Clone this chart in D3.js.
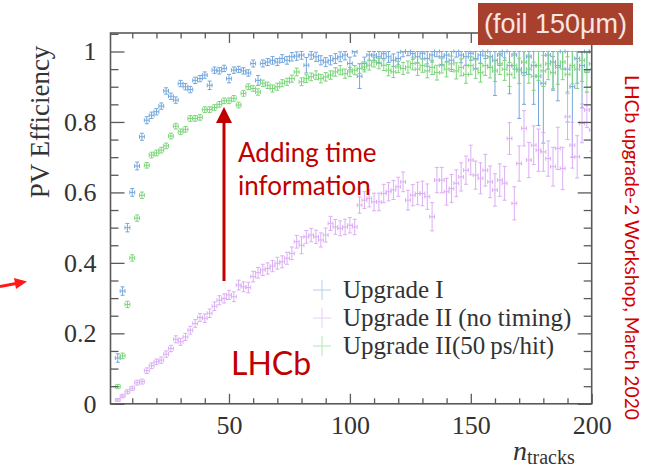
<!DOCTYPE html>
<html><head><meta charset="utf-8">
<script src="https://cdn.jsdelivr.net/npm/d3@7"></script>
<style>html,body{margin:0;padding:0;background:#fff;}svg{display:block;}</style>
</head><body>
<svg id="chart" width="647" height="470"></svg>
<script>
// ---------------- data ----------------
const nTracks = [4,6,8,10,12,14,16,18,20,22,24,26,28,30,32,34,36,38,40,42,44,46,48,50,52,54,56,58,60,62,64,66,68,70,72,74,76,78,80,82,84,86,88,90,92,94,96,98,100,102,104,106,108,110,112,114,116,118,120,122,124,126,128,130,132,134,136,138,140,142,144,146,148,150,152,154,156,158,160,162,164,166,168,170,172,174,176,178,180,182,184,186,188,190,192,194,196,198,200];

const upgrade1 = [0.13,0.32,0.50,0.60,0.675,0.758,0.805,0.819,0.829,0.845,0.888,0.873,0.862,0.909,0.900,0.892,0.918,0.923,0.933,0.904,0.947,0.945,0.952,0.923,0.947,0.949,0.945,0.939,0.966,0.918,0.966,0.970,0.975,0.970,0.980,0.975,0.985,0.987,0.990,0.961,0.990,0.985,0.975,0.970,0.975,0.980,0.985,0.990,0.966,0.999,0.930,0.966,0.990,0.990,0.985,0.994,0.985,0.975,0.980,0.999,1.000,0.994,0.985,0.995,0.980,0.990,1.000,0.985,0.990,0.975,1.000,0.990,0.985,0.995,0.980,0.990,1.000,0.985,0.975,0.990,1.000,0.960,0.990,0.950,0.940,0.985,0.960,0.930,0.910,0.990,0.970,0.960,1.000,0.950,0.900,0.980,0.960,1.000,1.000];
const upgrade1Err = [0.012,0.012,0.012,0.011,0.011,0.010,0.010,
  0.009,0.009,0.009,0.009,0.009,0.009,0.009,0.009,0.009,0.009,0.009,0.009,0.012,0.009,0.009,0.009,0.012,0.009,0.009,0.009,0.009,
  0.010,0.014,0.010,0.010,0.011,0.010,0.011,0.011,0.012,0.012,0.012,0.022,0.012,0.013,0.013,0.013,0.013,0.014,0.014,0.014,0.018,
  0.012,0.035,0.018,0.015,0.015,0.016,0.014,0.016,0.018,0.018,0.014,0.012,0.016,0.018,0.016,
  0.022,0.020,0.015,0.022,0.020,0.026,0.016,0.022,0.024,0.020,0.028,0.024,0.020,0.030,0.100,
  0.030,0.025,0.080,0.040,0.140,0.090,0.050,0.110,0.140,0.170,0.040,0.080,0.100,0.050,0.150,0.200,0.070,0.120,0.060,0.050];

const upgrade2NoTiming = [0.011,0.022,0.034,0.044,0.060,0.063,0.094,0.108,0.119,0.124,0.141,0.157,0.183,0.176,0.190,0.209,0.228,0.245,0.243,0.257,0.277,0.294,0.299,0.309,0.304,0.337,0.332,0.330,0.361,0.372,0.380,0.384,0.391,0.399,0.403,0.413,0.427,0.460,0.450,0.474,0.479,0.474,0.465,0.479,0.512,0.502,0.498,0.502,0.507,0.502,0.564,0.578,0.583,0.573,0.573,0.597,0.602,0.607,0.616,0.630,0.578,0.592,0.597,0.597,0.588,0.531,0.635,0.635,0.602,0.611,0.626,0.644,0.663,0.692,0.649,0.640,0.663,0.630,0.607,0.635,0.626,0.753,0.569,0.682,0.782,0.692,0.734,0.720,0.715,0.696,0.673,0.725,0.668,0.815,0.734,0.701,0.796,0.834,0.777];
const upgrade2NoTimingErr = [0.004,0.005,0.006,0.006,0.007,0.007,0.008,
  0.008,0.008,0.009,0.009,0.009,0.010,0.010,0.010,0.011,0.011,0.011,0.012,0.012,0.012,0.013,0.013,0.013,0.014,0.014,0.014,0.015,
  0.015,0.015,0.016,0.016,0.016,0.017,0.017,0.017,0.018,0.018,0.024,0.018,0.019,0.019,0.020,0.020,0.020,0.021,0.021,0.022,0.022,
  0.022,0.023,0.024,0.024,0.025,0.025,0.026,0.026,0.027,0.027,0.028,0.028,0.030,0.032,0.035,
  0.036,0.040,0.036,0.036,0.038,0.040,0.038,0.040,0.040,0.042,0.040,0.044,0.045,0.045,0.046,
  0.046,0.048,0.045,0.047,0.050,0.050,0.050,0.055,0.060,0.055,0.050,0.055,0.060,0.060,0.065,0.065,0.060,0.055,0.050,0.060];

const upgrade2Timing = [0.049,0.136,0.282,0.414,0.527,0.592,0.677,0.706,0.712,0.720,0.732,0.760,0.788,0.772,0.779,0.810,0.810,0.813,0.835,0.835,0.841,0.850,0.860,0.860,0.867,0.848,0.881,0.900,0.895,0.885,0.910,0.904,0.895,0.900,0.910,0.914,0.923,0.942,0.914,0.923,0.928,0.933,0.923,0.928,0.933,0.942,0.947,0.937,0.942,0.947,0.952,0.956,0.961,0.970,0.966,0.961,0.947,0.942,0.956,0.952,0.956,0.966,0.950,0.960,0.945,0.955,0.940,0.960,0.950,0.965,0.945,0.955,0.935,0.960,0.950,0.940,0.960,0.955,0.945,0.965,0.950,0.935,0.960,0.945,0.970,0.950,0.930,0.960,0.945,0.965,0.940,0.955,0.970,0.935,0.960,0.950,0.975,0.945,0.965];
const upgrade2TimingErr = [0.006,0.008,0.009,0.009,0.009,0.009,0.008,
  0.008,0.008,0.008,0.008,0.008,0.008,0.008,0.008,0.008,0.008,0.008,0.008,0.008,0.008,0.008,0.008,0.008,0.008,0.008,0.008,0.008,
  0.008,0.009,0.009,0.009,0.010,0.010,0.010,0.010,0.010,0.011,0.011,0.011,0.011,0.012,0.012,0.012,0.012,0.012,0.013,0.013,0.013,
  0.013,0.014,0.014,0.014,0.014,0.015,0.015,0.016,0.016,0.016,0.017,0.017,0.018,0.018,0.019,
  0.020,0.020,0.021,0.021,0.022,0.022,0.023,0.024,0.025,0.025,0.026,0.027,0.028,0.030,0.030,
  0.030,0.032,0.034,0.035,0.036,0.038,0.040,0.040,0.042,0.044,0.045,0.046,0.048,0.050,0.050,0.052,0.055,0.060,0.060,0.065];

const seriesNames = ["Upgrade I", "Upgrade II (no timing)", "Upgrade II(50\u2009ps/hit)"];
const xTickValues = [50, 100, 150, 200];
const xTickLabels = ["50", "100", "150", "200"];
const xMinorValues = [10,20,30,40,60,70,80,90,110,120,130,140,160,170,180,190];
const yTickValues = [0, 0.2, 0.4, 0.6, 0.8, 1];
const yTickLabels = ["0", "0.2", "0.4", "0.6", "0.8", "1"];
const yMinorValues = [0.05,0.1,0.15,0.25,0.3,0.35,0.45,0.5,0.55,0.65,0.7,0.75,0.85,0.9,0.95,1.05];
const binHalfWidth = 1;

// ---------------- drawing ----------------
const svg = d3.select("#chart");
const L = 110.5, R = 591.7, T = 33, B = 403.8;
const x = d3.scaleLinear().domain([1, 200]).range([L, R]);
const y = d3.scaleLinear().domain([0, 1.0525]).range([B, T]);
const serif = "'Liberation Serif', 'DejaVu Serif', serif";
const axisColor = "#5a5a5a";

svg.append("rect").attr("width", 647).attr("height", 470).attr("fill", "#fff");

const colors = ["#75a7dc", "#dbaef4", "#7bd57b"];
const legendColors = ["#b3cfec", "#e8cdf7", "#b0e6b0"];
const datasets = [
  {vals: upgrade1, errs: upgrade1Err},
  {vals: upgrade2NoTiming, errs: upgrade2NoTimingErr},
  {vals: upgrade2Timing, errs: upgrade2TimingErr}
];

const clip = svg.append("clipPath").attr("id", "plotclip");
clip.append("rect").attr("x", L).attr("y", T).attr("width", R - L).attr("height", B - T);

const plot = svg.append("g").attr("clip-path", "url(#plotclip)");
datasets.forEach((ds, si) => {
  const pts = nTracks.map((n, i) => ({n, v: ds.vals[i], e: ds.errs[i]}));
  const g = plot.append("g").attr("stroke", colors[si]).attr("stroke-width", 1).attr("fill", "none");
  const cap = 2;
  pts.forEach(p => {
    const cx = x(p.n), cy = y(p.v);
    const top = y(Math.min(1, p.v + p.e)), bot = y(Math.max(0, p.v - p.e));
    const xl = x(p.n - binHalfWidth), xr = x(p.n + binHalfWidth);
    const path = d3.path();
    path.moveTo(cx, top); path.lineTo(cx, bot);
    path.moveTo(xl, cy); path.lineTo(xr, cy);
    path.moveTo(cx - cap, top); path.lineTo(cx + cap, top);
    path.moveTo(cx - cap, bot); path.lineTo(cx + cap, bot);
    path.moveTo(xl, cy - cap); path.lineTo(xl, cy + cap);
    path.moveTo(xr, cy - cap); path.lineTo(xr, cy + cap);
    g.append("path").attr("d", path.toString());
  });
});

// frame
svg.append("rect").attr("x", L).attr("y", T).attr("width", R - L).attr("height", B - T)
  .attr("fill", "none").attr("stroke", axisColor).attr("stroke-width", 1.6);

function styleAxis(g) {
  g.select(".domain").remove();
  g.selectAll(".tick line").attr("stroke", axisColor).attr("stroke-width", 1.3);
  g.selectAll("text").attr("font-family", serif).attr("font-size", 26).attr("fill", "#333");
}
// x axes
svg.append("g").attr("transform", `translate(0,${B})`)
  .call(d3.axisBottom(x).tickValues(xTickValues).tickFormat((d, i) => xTickLabels[i]).tickSize(-10).tickPadding(12))
  .call(styleAxis);
svg.append("g").attr("transform", `translate(0,${B})`)
  .call(d3.axisBottom(x).tickValues(xMinorValues).tickFormat("").tickSize(-5.5)).call(styleAxis);
svg.append("g").attr("transform", `translate(0,${T})`)
  .call(d3.axisTop(x).tickValues(xTickValues).tickFormat("").tickSize(-10)).call(styleAxis);
svg.append("g").attr("transform", `translate(0,${T})`)
  .call(d3.axisTop(x).tickValues(xMinorValues).tickFormat("").tickSize(-5.5)).call(styleAxis);
// y axes
svg.append("g").attr("transform", `translate(${L},0)`)
  .call(d3.axisLeft(y).tickValues(yTickValues).tickFormat((d, i) => yTickLabels[i]).tickSize(-14).tickPadding(14))
  .call(styleAxis);
svg.append("g").attr("transform", `translate(${L},0)`)
  .call(d3.axisLeft(y).tickValues(yMinorValues).tickFormat("").tickSize(-8)).call(styleAxis);
svg.append("g").attr("transform", `translate(${R},0)`)
  .call(d3.axisRight(y).tickValues(yTickValues).tickFormat("").tickSize(-14)).call(styleAxis);
svg.append("g").attr("transform", `translate(${R},0)`)
  .call(d3.axisRight(y).tickValues(yMinorValues).tickFormat("").tickSize(-8)).call(styleAxis);

// axis titles
svg.append("text").attr("transform", "translate(49,122) rotate(-90)")
  .attr("text-anchor", "middle").attr("font-family", serif).attr("font-size", 27).attr("fill", "#333")
  .text("PV Efficiency");
const xt = svg.append("text").attr("x", 513).attr("y", 460).attr("font-family", serif).attr("fill", "#333");
xt.append("tspan").attr("font-style", "italic").attr("font-size", 28).text("n");
xt.append("tspan").attr("font-size", 20).attr("dy", 4).text("tracks");

// legend
const lg = svg.append("g");
const legendRows = [290, 318, 346];
seriesNames.forEach((name, i) => {
  const cy = legendRows[i], cx = 322;
  lg.append("path").attr("d", `M${cx - 9},${cy}H${cx + 9}M${cx},${cy - 10}V${cy + 10}`)
    .attr("stroke", legendColors[i]).attr("stroke-width", 1).attr("fill", "none");
  lg.append("text").attr("x", 343).attr("y", cy + 8).attr("font-family", serif).attr("font-size", 25)
    .attr("fill", "#333").text(name);
});

// annotations
const darkRed = "#c00000";
const sans = "Lato, 'Open Sans', 'Noto Sans', sans-serif";
svg.append("line").attr("x1", 224).attr("y1", 281).attr("x2", 224).attr("y2", 120)
  .attr("stroke", darkRed).attr("stroke-width", 3);
svg.append("path").attr("d", "M224,107 L232,123 L216,123 Z").attr("fill", darkRed);
svg.append("text").attr("x", 238).attr("y", 162).attr("font-family", sans).attr("font-size", 26)
  .attr("fill", darkRed).text("Adding time");
svg.append("text").attr("x", 238).attr("y", 195).attr("font-family", sans).attr("font-size", 26)
  .attr("fill", darkRed).text("information");
svg.append("text").attr("x", 231).attr("y", 375).attr("font-family", sans).attr("font-size", 32)
  .attr("fill", darkRed).text("LHCb");

// left small arrow
svg.append("line").attr("x1", 0).attr("y1", 286.5).attr("x2", 16).attr("y2", 283.5)
  .attr("stroke", "#ff1a1a").attr("stroke-width", 3);
svg.append("path").attr("d", "M27,281.5 L14,278 L16,289 Z").attr("fill", "#ff1a1a");

// foil box
svg.append("rect").attr("x", 478).attr("y", 3).attr("width", 155).attr("height", 42).attr("fill", "#a8402e");
svg.append("text").attr("x", 555.5).attr("y", 33).attr("text-anchor", "middle")
  .attr("font-family", "'Liberation Sans', Arial, sans-serif").attr("font-size", 27).attr("fill", "#f6e6e2")
  .text("(foil 150\u03bcm)");

// vertical workshop label
svg.append("text").attr("transform", "translate(625,75) rotate(90)")
  .attr("font-family", sans).attr("font-size", 19).attr("fill", "#d40000")
  .attr("textLength", 345).attr("lengthAdjust", "spacingAndGlyphs")
  .text("LHCb upgrade-2 Workshop, March 2020");
</script>
</body></html>
